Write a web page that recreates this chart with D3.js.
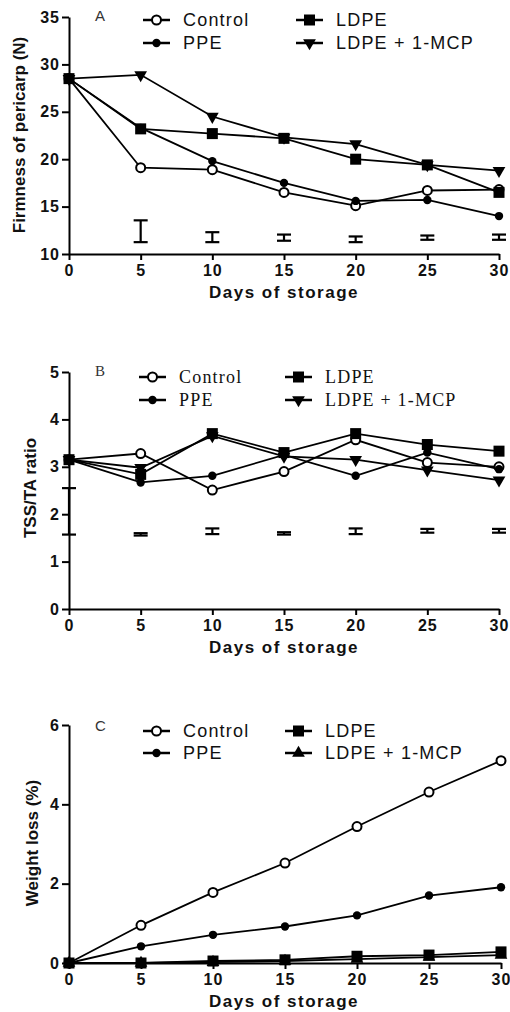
<!DOCTYPE html>
<html>
<head>
<meta charset="utf-8">
<script src="https://cdn.jsdelivr.net/npm/d3@7"></script>
<style>
  body { margin: 0; background: #fff; }
  svg { display: block; }
  .tick text { font-family: Arial, "Liberation Sans", sans-serif; font-weight: bold; font-size: 16px; letter-spacing: 1px; fill: #111; }
  .domain, .tick line { stroke: #000; stroke-width: 2px; }
</style>
</head>
<body>
<svg id="svg" width="510" height="1012"></svg>
<script>
// days on x axis, shared by all three panels
var days = [0, 5, 10, 15, 20, 25, 30];
var seriesNames = ["Control", "PPE", "LDPE", "LDPE + 1-MCP"];

// A - firmness of pericarp (N)
var firmControl = [28.5, 19.1, 18.9, 16.5, 15.1, 16.7, 16.8];
var firmPPE     = [28.5, 23.3, 19.8, 17.5, 15.6, 15.7, 14.0];
var firmLDPE    = [28.5, 23.2, 22.7, 22.2, 20.0, 19.4, 16.5];
var firmMCP     = [28.5, 28.9, 24.5, 22.3, 21.6, 19.4, 18.8];
var firmErrLow  = [null, 11.25, 11.25, 11.4, 11.25, 11.5, 11.5];
var firmErrHigh = [null, 13.55, 12.3, 12.05, 11.85, 11.95, 12.05];

// B - TSS/TA ratio
var tssControl = [3.15, 3.28, 2.51, 2.90, 3.57, 3.09, 3.00];
var tssPPE     = [3.15, 2.67, 2.81, 3.25, 2.81, 3.30, 2.95];
var tssLDPE    = [3.15, 2.84, 3.70, 3.30, 3.70, 3.47, 3.33];
var tssMCP     = [3.15, 2.98, 3.65, 3.22, 3.15, 2.93, 2.72];
var tssErrLow  = [1.57, 1.55, 1.58, 1.57, 1.58, 1.61, 1.61];
var tssErrHigh = [2.55, 1.60, 1.70, 1.62, 1.70, 1.69, 1.69];

// C - weight loss (%)
var wlControl = [0, 0.95, 1.78, 2.52, 3.44, 4.31, 5.10];
var wlPPE     = [0, 0.42, 0.71, 0.92, 1.20, 1.70, 1.91];
var wlLDPE    = [0, 0.00, 0.05, 0.08, 0.17, 0.20, 0.28];
var wlMCP     = [0, 0.00, 0.02, 0.05, 0.10, 0.15, 0.20];

var svg = d3.select("#svg");
var sans = "Arial, 'Liberation Sans', sans-serif";
var serif = "'Times New Roman', 'Liberation Serif', serif";

// marker painters, one per series kind
function drawMarker(g, kind, x, y) {
  if (kind == "openCircle") {
    g.append("circle").attr("cx", x).attr("cy", y).attr("r", 4.5)
      .attr("fill", "#fff").attr("stroke", "#000").attr("stroke-width", 2);
  } else if (kind == "dot") {
    g.append("circle").attr("cx", x).attr("cy", y).attr("r", 4.2).attr("fill", "#000");
  } else if (kind == "square") {
    g.append("rect").attr("x", x - 5.5).attr("y", y - 5.5).attr("width", 11).attr("height", 11).attr("fill", "#000");
  } else if (kind == "triDown" || kind == "triUp") {
    g.append("path").attr("d", d3.symbol().type(d3.symbolTriangle).size(70))
      .attr("transform", "translate(" + x + "," + y + ")" + (kind == "triDown" ? " rotate(180)" : ""))
      .attr("fill", "#000");
  }
}

function drawPanel(p) {
  var g = svg.append("g");
  var x = d3.scaleLinear().domain([0, 30]).range([69, p.xRight]);
  var y = d3.scaleLinear().domain(p.yDomain).range(p.yRange);

  // axes
  g.append("g").attr("transform", "translate(0," + p.yRange[0] + ")")
    .call(d3.axisBottom(x).tickValues(days).tickSize(6).tickSizeOuter(0).tickPadding(5).tickFormat(d3.format("d")));
  g.append("g").attr("transform", "translate(69,0)")
    .call(d3.axisLeft(y).tickValues(p.yTicks).tickSize(7).tickSizeOuter(0).tickPadding(2).tickFormat(d3.format("d")));

  // error bars (LSD)
  if (p.errLow) {
    days.forEach(function(d, i) {
      if (p.errLow[i] == null) return;
      var eg = g.append("g").attr("stroke", "#000").attr("stroke-width", 2.2);
      eg.append("line").attr("x1", x(d)).attr("x2", x(d)).attr("y1", y(p.errLow[i])).attr("y2", y(p.errHigh[i]));
      [p.errLow[i], p.errHigh[i]].forEach(function(v) {
        eg.append("line").attr("x1", x(d) - 7).attr("x2", x(d) + 7).attr("y1", y(v)).attr("y2", y(v));
      });
    });
  }

  // series lines + markers
  var line = d3.line().x(function(d, i) { return x(days[i]); }).y(function(d) { return y(d); });
  p.series.forEach(function(s) {
    g.append("path").datum(s.values).attr("d", line)
      .attr("fill", "none").attr("stroke", "#000").attr("stroke-width", 1.8);
  });
  p.series.forEach(function(s) {
    s.values.forEach(function(v, i) { drawMarker(g, s.marker, x(days[i]), y(v)); });
  });

  // legend, two columns: Control/PPE left, LDPE/LDPE + 1-MCP right
  p.series.forEach(function(s, i) {
    var lx = i < 2 ? p.legX[0] : p.legX[1];
    var ly = p.legY[i % 2];
    g.append("line").attr("x1", lx).attr("x2", lx + 27).attr("y1", ly).attr("y2", ly)
      .attr("stroke", "#000").attr("stroke-width", 2.5);
    drawMarker(g, s.marker, lx + 13.5, ly);
    g.append("text").attr("x", lx + 40).attr("y", ly + 6).text(seriesNames[i])
      .attr("font-family", p.legFont).attr("font-size", 18).attr("letter-spacing", 1.2).attr("fill", "#111");
  });

  // panel letter
  g.append("text").attr("x", 95).attr("y", p.yRange[1] + p.letterDy).text(p.letter)
    .attr("font-family", p.legFont).attr("font-size", 15).attr("fill", "#333");

  // axis titles
  g.append("text").attr("x", 284).attr("y", p.xTitleY).attr("text-anchor", "middle").text("Days of storage")
    .attr("font-family", sans).attr("font-weight", "bold").attr("font-size", 17).attr("letter-spacing", 1.5).attr("fill", "#111");
  g.append("text").attr("transform", "translate(" + p.yTitleX + "," + p.yTitleY + ") rotate(-90)")
    .attr("text-anchor", "middle").text(p.yTitle)
    .attr("font-family", sans).attr("font-weight", "bold").attr("font-size", 17).attr("fill", "#111");
}

drawPanel({
  letter: "A", letterDy: 4, legFont: sans,
  xRight: 499, yDomain: [10, 35], yRange: [254, 17], yTicks: [10, 15, 20, 25, 30, 35],
  errLow: firmErrLow, errHigh: firmErrHigh,
  legX: [143, 296], legY: [20, 43],
  xTitleY: 298, yTitleX: 25, yTitleY: 135, yTitle: "Firmness of pericarp (N)",
  series: [
    {values: firmControl, marker: "openCircle"},
    {values: firmPPE, marker: "dot"},
    {values: firmLDPE, marker: "square"},
    {values: firmMCP, marker: "triDown"}
  ]
});

drawPanel({
  letter: "B", letterDy: 4, legFont: serif,
  xRight: 499, yDomain: [0, 5], yRange: [609, 372], yTicks: [0, 1, 2, 3, 4, 5],
  errLow: tssErrLow, errHigh: tssErrHigh,
  legX: [139, 285], legY: [377, 400],
  xTitleY: 653, yTitleX: 36, yTitleY: 488, yTitle: "TSS/TA ratio",
  series: [
    {values: tssControl, marker: "openCircle"},
    {values: tssPPE, marker: "dot"},
    {values: tssLDPE, marker: "square"},
    {values: tssMCP, marker: "triDown"}
  ]
});

drawPanel({
  letter: "C", letterDy: 6, legFont: sans,
  xRight: 501, yDomain: [0, 6], yRange: [963, 725], yTicks: [0, 2, 4, 6],
  errLow: null, errHigh: null,
  legX: [143, 285], legY: [731, 753],
  xTitleY: 1007, yTitleX: 38, yTitleY: 843, yTitle: "Weight loss (%)",
  series: [
    {values: wlControl, marker: "openCircle"},
    {values: wlPPE, marker: "dot"},
    {values: wlLDPE, marker: "square"},
    {values: wlMCP, marker: "triUp"}
  ]
});
</script>
</body>
</html>
